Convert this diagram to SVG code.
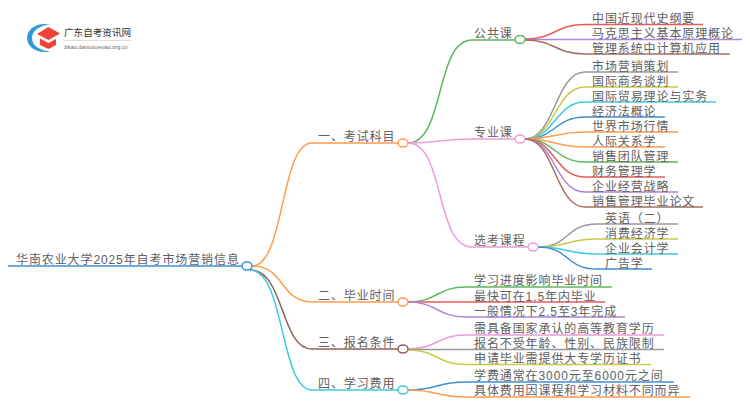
<svg xmlns="http://www.w3.org/2000/svg" width="750" height="410" viewBox="0 0 750 410">
<style>
text{font-family:"Liberation Sans","Noto Sans CJK SC",sans-serif;font-size:12px;letter-spacing:.9px;fill:#606060}
.c path{fill:none;stroke-width:1.500}
.n{fill:#fff;stroke-width:1.500}
</style>
<rect width="750" height="410" fill="#fff"/>
<g id="logo">
<path d="M50 24.500C37 22 27 29 27 38C27 47 37 54 50 51.500C41 51 32 46 32 38C32 30 41 25 50 24.500Z" fill="#2f9bd8"/>
<path d="M37 34L48.500 27L60 33.500L48.500 40Z" fill="#ef4136"/>
<path d="M40 38.500L48.500 43L56 39V45L48.500 49L40 45Z" fill="#ef4136"/>
<text x="64" y="36" style="font-size:9.600px;letter-spacing:0;fill:#333">广东自考资讯网</text>
<path d="M63 40.500H131" stroke="#ddd" fill="none"/>
<text x="64" y="49" style="font-size:5.500px;letter-spacing:0;fill:#666">zikao.daniuxuexiao.org.cn</text>
</g>
<g id="connectors" class="c">
<path d="M8 266H242" stroke="#3f8fd0"/>
<path d="M252 266C285 266 280 143 312 143H398" stroke="#ff9d4d"/>
<path d="M252 266C285 266 280 302 312 302H398" stroke="#ff9d4d"/>
<path d="M250 270C285 270 280 349 312 349H398" stroke="#8f6257"/>
<path d="M250 270C285 270 280 390 312 390H398" stroke="#3fcbd8"/>
<path d="M408 143C445 143 435 40 472 40H515" stroke="#5cb85c"/>
<path d="M408 143C440 143 440 139 472 139H515" stroke="#ee9ad8"/>
<path d="M408 143C445 143 435 247 472 247H528" stroke="#ee9ad8"/>
<path d="M525 39C555 39 555 24.500 585 24.500H703" stroke="#ea5a5a"/>
<path d="M525 39.500H742" stroke="#b083d6"/>
<path d="M525 40C555 40 555 54 585 54H730" stroke="#a56f62"/>
<path d="M525 139C555 139 555 72 585 72H678" stroke="#999"/>
<path d="M525 139C555 139 555 87 585 87H678" stroke="#c9c94a"/>
<path d="M525 139C555 139 555 102 585 102H716" stroke="#3fcbe0"/>
<path d="M525 139C555 139 555 117 585 117H665" stroke="#3f8fd0"/>
<path d="M525 139C555 139 555 132 585 132H678" stroke="#ff9d4d"/>
<path d="M525 139C555 139 555 147 585 147H665" stroke="#ff9d4d"/>
<path d="M525 139C555 139 555 162 585 162H678" stroke="#5cb85c"/>
<path d="M525 139C555 139 555 177 585 177H665" stroke="#ea5a5a"/>
<path d="M525 139C555 139 555 192 585 192H678" stroke="#b083d6"/>
<path d="M525 139C555 139 555 207 585 207H703" stroke="#a56f62"/>
<path d="M538 247C570 247 565 224 597 224H678" stroke="#999"/>
<path d="M538 247C570 247 565 239 597 239H678" stroke="#c9c94a"/>
<path d="M538 247C570 247 565 254 597 254H678" stroke="#3fcbe0"/>
<path d="M538 247C570 247 565 269 597 269H652" stroke="#3f8fd0"/>
<path d="M408 302C438 302 436 287 466 287H612" stroke="#5cb85c"/>
<path d="M408 302H605" stroke="#ea5a5a"/>
<path d="M408 302C438 302 436 317 466 317H625" stroke="#b083d6"/>
<path d="M408 349C438 349 436 335 466 335H664" stroke="#ee9ad8"/>
<path d="M408 349.500H664" stroke="#999"/>
<path d="M408 350C438 350 436 364.500 466 364.500H651" stroke="#c9c94a"/>
<path d="M408 390C438 390 436 382 466 382H674" stroke="#3f8fd0"/>
<path d="M408 390C438 390 436 397 466 397H690" stroke="#ff9d4d"/>
</g>
<g id="root"><ellipse class="n" cx="247" cy="266" rx="5" ry="4" stroke="#3f8fd0"/><text x="16" y="264">华南农业大学2025年自考市场营销信息</text></g>
<g id="n1"><ellipse class="n" cx="403" cy="143" rx="5" ry="4" stroke="#ff9d4d"/><text x="318" y="141">一、考试科目</text></g>
<g id="n2"><ellipse class="n" cx="403" cy="302" rx="5" ry="4" stroke="#ff9d4d"/><text x="318" y="300">二、毕业时间</text></g>
<g id="n3"><ellipse class="n" cx="403" cy="349" rx="5" ry="4" stroke="#8f6257"/><text x="318" y="347">三、报名条件</text></g>
<g id="n4"><ellipse class="n" cx="403" cy="390" rx="5" ry="4" stroke="#3fcbd8"/><text x="318" y="388">四、学习费用</text></g>
<g id="n5"><ellipse class="n" cx="520" cy="39.500" rx="5" ry="4" stroke="#5cb85c"/><text x="474" y="38">公共课</text></g>
<g id="n6"><ellipse class="n" cx="520" cy="139" rx="5" ry="4" stroke="#ee9ad8"/><text x="474" y="137">专业课</text></g>
<g id="n7"><ellipse class="n" cx="533" cy="247" rx="5" ry="4" stroke="#ee9ad8"/><text x="474" y="245">选考课程</text></g>
<g id="leaves">
<text x="592" y="22.500">中国近现代史纲要</text>
<text x="592" y="37.500">马克思主义基本原理概论</text>
<text x="592" y="52.500">管理系统中计算机应用</text>
<text x="592" y="70.500">市场营销策划</text>
<text x="592" y="85.500">国际商务谈判</text>
<text x="592" y="100.500">国际贸易理论与实务</text>
<text x="592" y="115.500">经济法概论</text>
<text x="592" y="130.500">世界市场行情</text>
<text x="592" y="145.500">人际关系学</text>
<text x="592" y="160.500">销售团队管理</text>
<text x="592" y="175.500">财务管理学</text>
<text x="592" y="190.500">企业经营战略</text>
<text x="592" y="205.500">销售管理毕业论文</text>
<text x="605" y="222.500">英语（二）</text>
<text x="605" y="237.500">消费经济学</text>
<text x="605" y="252.500">企业会计学</text>
<text x="605" y="267.500">广告学</text>
<text x="474" y="285">学习进度影响毕业时间</text>
<text x="474" y="300.500">最快可在1.5年内毕业</text>
<text x="474" y="315.500">一般情况下2.5至3年完成</text>
<text x="474" y="333">需具备国家承认的高等教育学历</text>
<text x="474" y="348">报名不受年龄、性别、民族限制</text>
<text x="474" y="363">申请毕业需提供大专学历证书</text>
<text x="474" y="380">学费通常在3000元至6000元之间</text>
<text x="474" y="395">具体费用因课程和学习材料不同而异</text>
</g>
</svg>
